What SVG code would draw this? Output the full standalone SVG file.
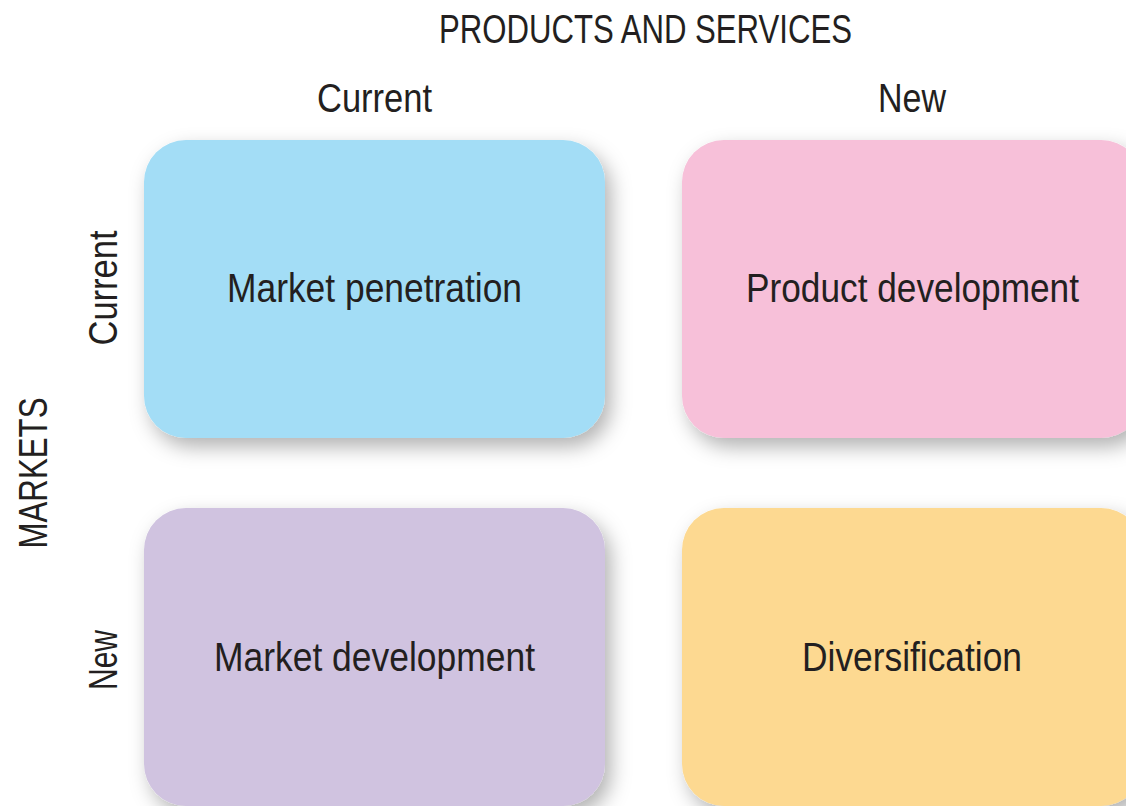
<svg xmlns="http://www.w3.org/2000/svg" width="1126" height="806" viewBox="0 0 1126 806">
<defs>
<filter id="sh" x="-20%" y="-20%" width="140%" height="140%">
<feDropShadow dx="6" dy="9" stdDeviation="10" flood-color="#000" flood-opacity="0.3"/>
</filter>
<style>
text{font-family:"Liberation Sans",Arial,sans-serif;font-size:40px;fill:#231f20;text-anchor:middle}
.box{filter:url(#sh)}
</style>
</defs>
<rect width="1126" height="806" fill="#fff"/>
<g id="headers">
<text x="645.5" y="43" textLength="413" lengthAdjust="spacingAndGlyphs">PRODUCTS AND SERVICES</text>
<text x="374.5" y="112" textLength="115" lengthAdjust="spacingAndGlyphs">Current</text>
<text x="912" y="112" textLength="68" lengthAdjust="spacingAndGlyphs">New</text>
<text transform="translate(47,473) rotate(-90)" textLength="151" lengthAdjust="spacingAndGlyphs">MARKETS</text>
<text transform="translate(117,288) rotate(-90)" textLength="115" lengthAdjust="spacingAndGlyphs">Current</text>
<text transform="translate(117,660) rotate(-90)" textLength="60" lengthAdjust="spacingAndGlyphs">New</text>
</g>
<g id="market-penetration">
<rect class="box" x="144" y="140" width="461" height="298" rx="42" fill="#a3ddf6"/>
<text x="374.5" y="302" textLength="295" lengthAdjust="spacingAndGlyphs">Market penetration</text>
</g>
<g id="product-development">
<rect class="box" x="682" y="140" width="461" height="298" rx="42" fill="#f7c0d9"/>
<text x="912.5" y="302" textLength="333" lengthAdjust="spacingAndGlyphs">Product development</text>
</g>
<g id="market-development">
<rect class="box" x="144" y="508" width="461" height="298" rx="42" fill="#d0c3e0"/>
<text x="374.5" y="671" textLength="321" lengthAdjust="spacingAndGlyphs">Market development</text>
</g>
<g id="diversification">
<rect class="box" x="682" y="508" width="461" height="298" rx="42" fill="#fdd991"/>
<text x="912" y="671" textLength="220" lengthAdjust="spacingAndGlyphs">Diversification</text>
</g>
<g id="connectors"/>
</svg>
